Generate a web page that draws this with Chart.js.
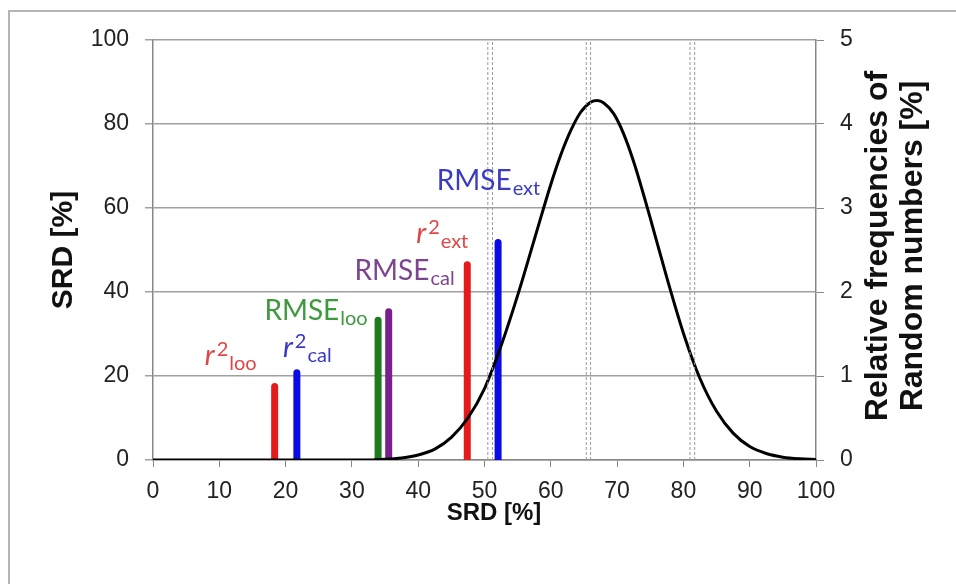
<!DOCTYPE html>
<html>
<head>
<meta charset="utf-8">
<script src="https://cdn.jsdelivr.net/npm/chart.js@4.4.1/dist/chart.umd.min.js"></script>
<style>
  html, body { margin: 0; padding: 0; background: #fff; }
  #wrap { position: relative; width: 956px; height: 584px; }
  #frame { position: absolute; left: 8px; top: 10px; right: 0; bottom: 0;
           border-left: 2px solid #b4b4b4; border-top: 2px solid #b4b4b4; pointer-events: none; }
</style>
</head>
<body>
<div id="wrap">
  <canvas id="chart" width="956" height="584"></canvas>
  <div id="frame"></div>
</div>
<script>
// --- Data ---
// Distribution curve (right axis, relative frequency %)
const curveX = [0, 30, 32.5, 35, 37.5, 40, 42.5, 45, 47.5, 50, 52.5, 55, 57.5, 60, 61.5, 63, 64.5, 66, 67, 68, 69.5, 71, 72.5, 75, 77.5, 80, 82.5, 85, 87.5, 90, 92.5, 95, 97.5, 100];
const curveFreq = [0, 0, 0, 0.008, 0.025, 0.06, 0.13, 0.27, 0.5, 0.85, 1.36, 1.96, 2.62, 3.28, 3.63, 3.92, 4.14, 4.26, 4.28, 4.25, 4.12, 3.88, 3.55, 2.88, 2.17, 1.51, 0.97, 0.58, 0.32, 0.16, 0.077, 0.034, 0.014, 0.005];

// Model metrics: SRD position (x) and height (left axis)
const metricNames = ['r2loo', 'r2cal', 'RMSEloo', 'RMSEcal', 'r2ext', 'RMSEext'];
const metricSRD = [18.35, 21.7, 33.95, 35.55, 47.4, 52.05];
const metricValue = [17.5, 20.8, 33.3, 35.3, 46.5, 51.8];

// Dashed limit lines (SRD %)
const limitSRD = [50.5, 51.2, 65.35, 66.0, 81.0, 81.7];

const xTicks = [0, 10, 20, 30, 40, 50, 60, 70, 80, 90, 100];

// --- Styles ---
const barColors = { r2loo: '#e31b1b', r2cal: '#0b0be6', RMSEloo: '#1d7a1d', RMSEcal: '#7a1f8c', r2ext: '#e31b1b', RMSEext: '#0b0be6' };
const textColors = { r2loo: '#e04545', r2cal: '#3838c4', RMSEloo: '#3f9a3f', RMSEcal: '#7d4590', r2ext: '#e04545', RMSEext: '#3b3bc4' };

// label anchors in data units (left edge, baseline)
const labelDefs = [
  { key: 'r2loo',   x: 7.8,  y: 22.6, parts: [['r', 'it'], ['2', 'sup'], ['loo', 'sub']] },
  { key: 'r2cal',   x: 19.6, y: 24.5, parts: [['r', 'it'], ['2', 'sup'], ['cal', 'sub']] },
  { key: 'RMSEloo', x: 16.8, y: 33.3, parts: [['RMSE', 'n'], ['loo', 'sub']] },
  { key: 'RMSEcal', x: 30.4, y: 42.9, parts: [['RMSE', 'n'], ['cal', 'sub']] },
  { key: 'r2ext',   x: 39.7, y: 51.7, parts: [['r', 'it'], ['2', 'sup'], ['ext', 'sub']] },
  { key: 'RMSEext', x: 42.8, y: 64.3, parts: [['RMSE', 'n'], ['ext', 'sub']] }
];

const LABEL_FONT = 'Lato, "Open Sans", sans-serif';
const AXIS_FONT = '"Liberation Sans", Arial, sans-serif';

// --- Datasets ---
const datasets = [];

limitSRD.forEach(v => {
  datasets.push({
    data: [{ x: v, y: 0 }, { x: v, y: 100 }],
    yAxisID: 'y',
    showLine: true,
    borderColor: '#9a9a9a',
    borderWidth: 1,
    borderDash: [3, 2],
    pointRadius: 0
  });
});

datasets.push({
  data: curveX.map((x, i) => ({ x: x, y: curveFreq[i] })),
  yAxisID: 'y1',
  showLine: true,
  borderColor: '#000',
  borderWidth: 3,
  pointRadius: 0,
  cubicInterpolationMode: 'monotone'
});

metricNames.forEach((name, i) => {
  datasets.push({
    data: [{ x: metricSRD[i], y: 0 }, { x: metricSRD[i], y: metricValue[i] }],
    yAxisID: 'y',
    showLine: true,
    borderColor: barColors[name],
    borderWidth: 7,
    borderCapStyle: 'round',
    pointRadius: 0,
    clip: 0
  });
});

// --- Plugin: labels and axis titles ---
const textPlugin = {
  id: 'textPlugin',
  afterDraw(chart) {
    const ctx = chart.ctx;
    const xs = chart.scales.x, ys = chart.scales.y;
    ctx.save();
    ctx.textBaseline = 'alphabetic';
    ctx.textAlign = 'left';

    labelDefs.forEach(l => {
      let px = xs.getPixelForValue(l.x);
      const py = ys.getPixelForValue(l.y);
      ctx.fillStyle = textColors[l.key];
      l.parts.forEach(([t, kind]) => {
        let dy = 0;
        if (kind === 'it') ctx.font = 'italic 29px ' + LABEL_FONT;
        else if (kind === 'n') ctx.font = '28px ' + LABEL_FONT;
        else if (kind === 'sup') { ctx.font = '20px ' + LABEL_FONT; dy = -9; px += 2; }
        else { ctx.font = '20px ' + LABEL_FONT; dy = 5; px += 1; }
        ctx.fillText(t, px, py + dy);
        px += ctx.measureText(t).width;
      });
    });

    // axis titles
    ctx.fillStyle = '#111';
    ctx.textAlign = 'center';
    ctx.textBaseline = 'middle';
    ctx.font = 'bold 30px ' + AXIS_FONT;
    ctx.save();
    ctx.translate(64, 250);
    ctx.rotate(-Math.PI / 2);
    ctx.fillText('SRD [%]', 0, 0);
    ctx.restore();

    ctx.font = 'bold 32px ' + AXIS_FONT;
    ctx.save();
    ctx.translate(895, 246);
    ctx.rotate(-Math.PI / 2);
    ctx.fillText('Relative frequencies of', 0, -17);
    ctx.fillText('Random numbers [%]', 0, 18);
    ctx.restore();

    ctx.font = 'bold 24px ' + AXIS_FONT;
    ctx.fillText('SRD [%]', 494, 513);
    ctx.restore();
  }
};

new Chart(document.getElementById('chart'), {
  type: 'scatter',
  data: { datasets: datasets },
  plugins: [textPlugin],
  options: {
    responsive: false,
    animation: false,
    layout: { padding: { top: 40, left: 0, right: 0, bottom: 0 } },
    plugins: { legend: { display: false }, tooltip: { enabled: false } },
    scales: {
      x: {
        type: 'linear', min: 0, max: 100,
        afterFit: s => { s.height = 124; },
        afterBuildTicks: s => { s.ticks = xTicks.map(v => ({ value: v })); },
        ticks: { color: '#222', font: { family: AXIS_FONT, size: 23 }, padding: 11, maxRotation: 0 },
        grid: { display: true, drawOnChartArea: false, drawTicks: true, tickLength: 7, color: '#888' },
        border: { color: '#888', width: 1.5 }
      },
      y: {
        type: 'linear', position: 'left', min: 0, max: 100,
        afterFit: s => { s.width = 153; },
        ticks: { stepSize: 20, color: '#222', font: { family: AXIS_FONT, size: 23 }, padding: 16 },
        grid: { color: '#a0a0a0', lineWidth: 1.5, tickLength: 8 },
        border: { color: '#888', width: 1.5 }
      },
      y1: {
        type: 'linear', position: 'right', min: 0, max: 5,
        afterFit: s => { s.width = 140; },
        ticks: { stepSize: 1, color: '#222', font: { family: AXIS_FONT, size: 23 }, padding: 16 },
        grid: { drawOnChartArea: false, color: '#888', tickLength: 8 },
        border: { color: '#888', width: 1.5 }
      }
    }
  }
});
</script>
</body>
</html>
